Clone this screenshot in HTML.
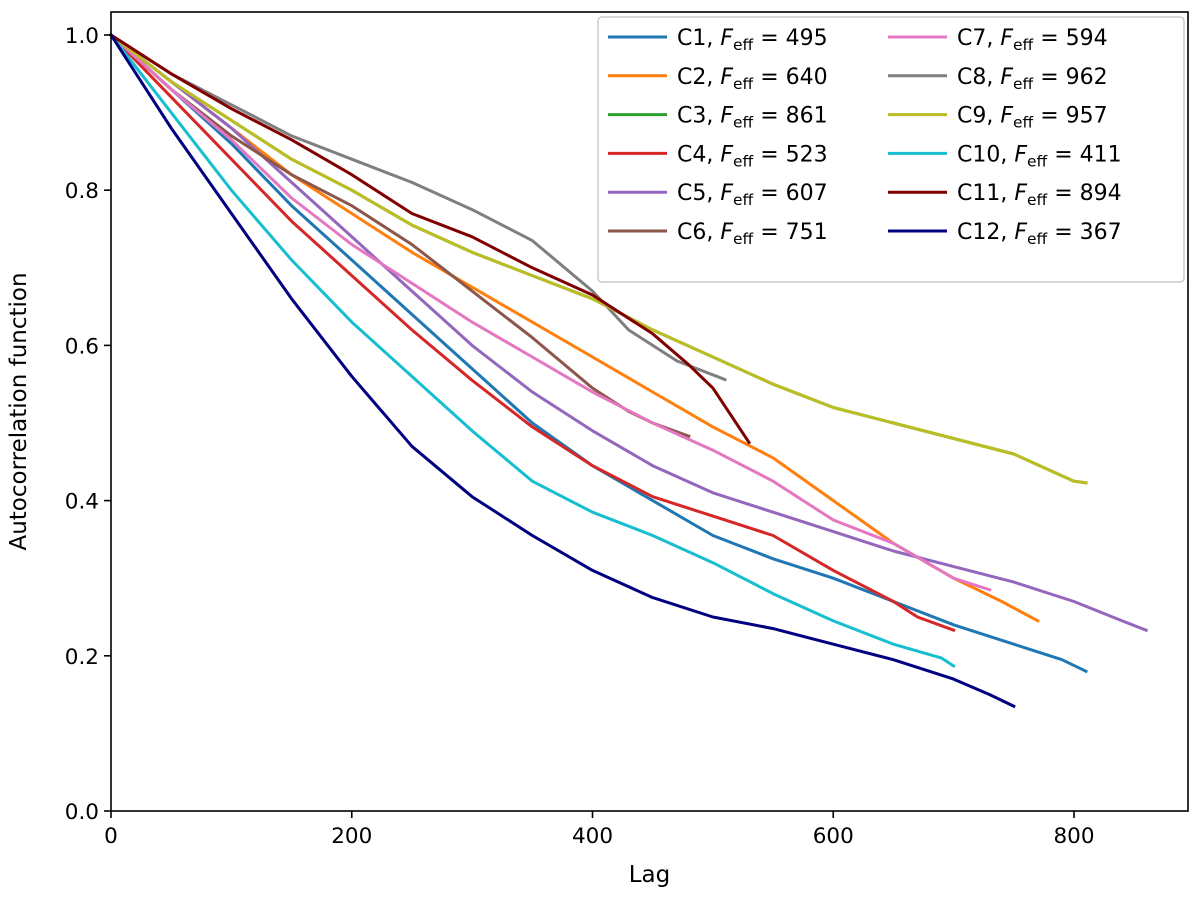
<!DOCTYPE html>
<html><head><meta charset="utf-8"><style>
body{margin:0;background:#fff}
svg text{font-family:"DejaVu Sans","Liberation Sans",sans-serif;fill:#000}
</style></head><body>
<svg id="chart" width="1200" height="904" viewBox="0 0 1200 904" xmlns="http://www.w3.org/2000/svg">
<g id="lines"></g>
<g id="axes"></g>
<g id="legend"></g>
</svg>
<script>
const seriesNames=["C1","C2","C3","C4","C5","C6","C7","C8","C9","C10","C11","C12"];
const feffValues=[495,640,861,523,607,751,594,962,957,411,894,367];
const colors=["#1f77b4","#ff7f0e","#2ca02c","#d62728","#9467bd","#8c564b","#e377c2","#7f7f7f","#bcbd22","#17becf","#800000","#000080"];
const lagsC1=[0,50,100,150,200,250,300,350,400,450,500,550,600,650,700,750,790,810];
const acfC1=[1,0.93,0.86,0.78,0.71,0.64,0.57,0.5,0.445,0.4,0.355,0.325,0.3,0.27,0.24,0.215,0.195,0.18];
const lagsC2=[0,50,100,150,200,250,300,350,400,450,500,550,600,650,700,740,770];
const acfC2=[1,0.94,0.88,0.82,0.77,0.72,0.675,0.63,0.585,0.54,0.495,0.455,0.4,0.345,0.3,0.27,0.245];
const lagsC3=[0,50,100,150,200,250,300,350,400,450,500,550,600,650,700,750,800,810];
const acfC3=[1,0.94,0.89,0.84,0.8,0.755,0.72,0.69,0.66,0.62,0.585,0.55,0.52,0.5,0.48,0.46,0.425,0.423];
const lagsC4=[0,50,100,150,200,250,300,350,400,450,500,550,600,650,670,700];
const acfC4=[1,0.92,0.84,0.76,0.69,0.62,0.555,0.495,0.445,0.405,0.38,0.355,0.31,0.27,0.25,0.233];
const lagsC5=[0,50,100,150,200,250,300,350,400,450,500,550,600,650,700,750,800,840,860];
const acfC5=[1,0.94,0.88,0.81,0.74,0.67,0.6,0.54,0.49,0.445,0.41,0.385,0.36,0.335,0.315,0.295,0.27,0.245,0.233];
const lagsC6=[0,50,100,150,200,250,300,350,400,430,450,480];
const acfC6=[1,0.93,0.87,0.82,0.78,0.73,0.67,0.61,0.545,0.515,0.5,0.483];
const lagsC7=[0,50,100,150,200,250,300,350,400,450,500,550,600,650,700,730];
const acfC7=[1,0.93,0.865,0.79,0.73,0.68,0.63,0.585,0.54,0.5,0.465,0.425,0.375,0.345,0.3,0.285];
const lagsC8=[0,50,100,150,200,250,300,350,400,430,470,510];
const acfC8=[1,0.95,0.91,0.87,0.84,0.81,0.775,0.735,0.67,0.62,0.58,0.556];
const lagsC9=[0,50,100,150,200,250,300,350,400,450,500,550,600,650,700,750,800,810];
const acfC9=[1,0.94,0.89,0.84,0.8,0.755,0.72,0.69,0.66,0.62,0.585,0.55,0.52,0.5,0.48,0.46,0.425,0.423];
const lagsC10=[0,50,100,150,200,250,300,350,400,450,500,550,600,650,690,700];
const acfC10=[1,0.9,0.8,0.71,0.63,0.56,0.49,0.425,0.385,0.355,0.32,0.28,0.245,0.215,0.197,0.187];
const lagsC11=[0,50,100,150,200,250,300,350,400,450,480,500,530];
const acfC11=[1,0.95,0.905,0.865,0.82,0.77,0.74,0.7,0.665,0.615,0.575,0.545,0.475];
const lagsC12=[0,50,100,150,200,250,300,350,400,450,500,550,600,650,700,730,750];
const acfC12=[1,0.88,0.77,0.66,0.56,0.47,0.405,0.355,0.31,0.275,0.25,0.235,0.215,0.195,0.17,0.15,0.135];
const allLags=[lagsC1,lagsC2,lagsC3,lagsC4,lagsC5,lagsC6,lagsC7,lagsC8,lagsC9,lagsC10,lagsC11,lagsC12];
const allAcf=[acfC1,acfC2,acfC3,acfC4,acfC5,acfC6,acfC7,acfC8,acfC9,acfC10,acfC11,acfC12];
const xTicks=[0,200,400,600,800];
const yTicks=[0.0,0.2,0.4,0.6,0.8,1.0];

const L=111,R=1188,T=12,B=811;
const xMax=(R-L)/1.20375;
const yMax=(B-T)/776;
function sx(v){return L+v/xMax*(R-L);}
function sy(v){return B-v/yMax*(B-T);}
const NS="http://www.w3.org/2000/svg";
function mk(tag,attrs,parent){const e=document.createElementNS(NS,tag);for(const k in attrs)e.setAttribute(k,attrs[k]);parent.appendChild(e);return e;}

const lg=document.getElementById('lines');
for(let i=0;i<12;i++){
  const d=allLags[i].map((x,j)=>(j?'L':'M')+sx(x).toFixed(1)+','+sy(allAcf[i][j]).toFixed(1)).join(' ');
  const p=mk('path',{d:d,fill:'none',stroke:colors[i],'stroke-width':3,'stroke-linejoin':'round','stroke-linecap':'square'},lg);
  
  
}
const ax=document.getElementById('axes');
const frame=mk('rect',{x:L,y:T,width:R-L,height:B-T,fill:'none',stroke:'#000','stroke-width':1.6},ax);


xTicks.forEach(v=>{
  mk('line',{x1:sx(v),x2:sx(v),y1:B,y2:B+7,stroke:'#000','stroke-width':1.6},ax);
  const t=mk('text',{x:sx(v),y:B+32,'text-anchor':'middle','font-size':21.5},ax);t.textContent=v;
  
  
});
yTicks.forEach(v=>{
  mk('line',{x1:L-7,x2:L,y1:sy(v),y2:sy(v),stroke:'#000','stroke-width':1.6},ax);
  const t=mk('text',{x:L-12,y:sy(v)+8,'text-anchor':'end','font-size':21.5},ax);t.textContent=v.toFixed(1);
  
  
});
const xl=mk('text',{x:(L+R)/2,y:882,'text-anchor':'middle','font-size':23},ax);xl.textContent='Lag';


const yl=mk('text',{x:0,y:0,'text-anchor':'middle','font-size':23,transform:'translate(26,'+((T+B)/2)+') rotate(-90)'},ax);yl.textContent='Autocorrelation function';



const leg=document.getElementById('legend');
const box=mk('rect',{x:598,y:17,width:586,height:265,rx:4,fill:'#fff','fill-opacity':0.8,stroke:'#ccc','stroke-width':1.5},leg);


for(let i=0;i<12;i++){
  const col=Math.floor(i/6),row=i%6;
  const lx=col?888:608, y=37+row*38.8;
  const g=mk('g',{},leg);
  
  
  mk('line',{x1:lx,x2:lx+59,y1:y,y2:y,stroke:colors[i],'stroke-width':3},g);
  const t=mk('text',{x:lx+69,y:y+8,'font-size':22},g);
  t.innerHTML=seriesNames[i]+', <tspan font-style="italic">F</tspan><tspan font-size="15.5" dy="5">eff</tspan><tspan dy="-5"> = '+feffValues[i]+'</tspan>';
}
</script>
</body></html>
